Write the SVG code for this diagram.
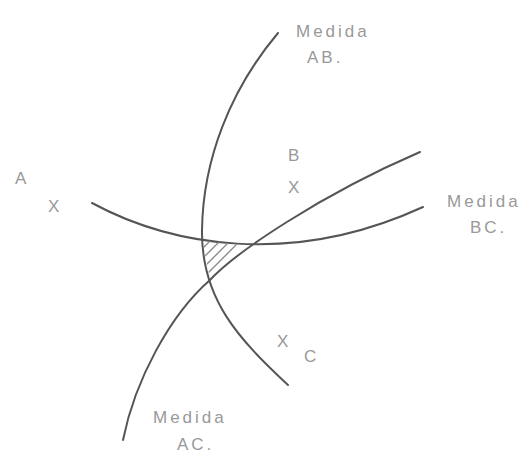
<svg xmlns="http://www.w3.org/2000/svg" width="528" height="453" viewBox="0 0 528 453">
<style>
.arc{fill:none;stroke:#555;stroke-width:2;stroke-linecap:round}
.t{font-family:"Liberation Sans",Arial,sans-serif;font-size:17px;fill:#999;letter-spacing:3px}
.h{stroke:#888;stroke-width:1.3}
</style>
<defs>
<clipPath id="tri"><polygon points="202,240 247,246 210,279"/></clipPath>
</defs>
<rect width="528" height="453" fill="#fff"/>
<g id="connectors">
<path class="arc" d="M278,33 C230,90 203,160 202,230 C201,300 240,340 288,385"/>
<path class="arc" d="M92,203 C170,245 290,268 423,207"/>
<path class="arc" d="M123,440 C135,380 170,315 210,280 C235,253 320,195 420,152"/>
</g>
<g id="hatch" clip-path="url(#tri)">
<line class="h" x1="195" y1="256" x2="215" y2="236"/>
<line class="h" x1="195" y1="266" x2="225" y2="236"/>
<line class="h" x1="195" y1="276" x2="235" y2="236"/>
<line class="h" x1="195" y1="286" x2="245" y2="236"/>
</g>
<g id="A"><text class="t" x="15" y="184">A</text><text class="t" x="48" y="212">X</text></g>
<g id="B"><text class="t" x="288" y="161">B</text><text class="t" x="288" y="193">X</text></g>
<g id="C"><text class="t" x="277" y="347">X</text><text class="t" x="304" y="362">C</text></g>
<g id="AB"><text class="t" x="296" y="37">Medida</text><text class="t" x="307" y="63">AB.</text></g>
<g id="BC"><text class="t" x="447" y="207">Medida</text><text class="t" x="470" y="233">BC.</text></g>
<g id="AC"><text class="t" x="153" y="423">Medida</text><text class="t" x="177" y="450">AC.</text></g>
</svg>
